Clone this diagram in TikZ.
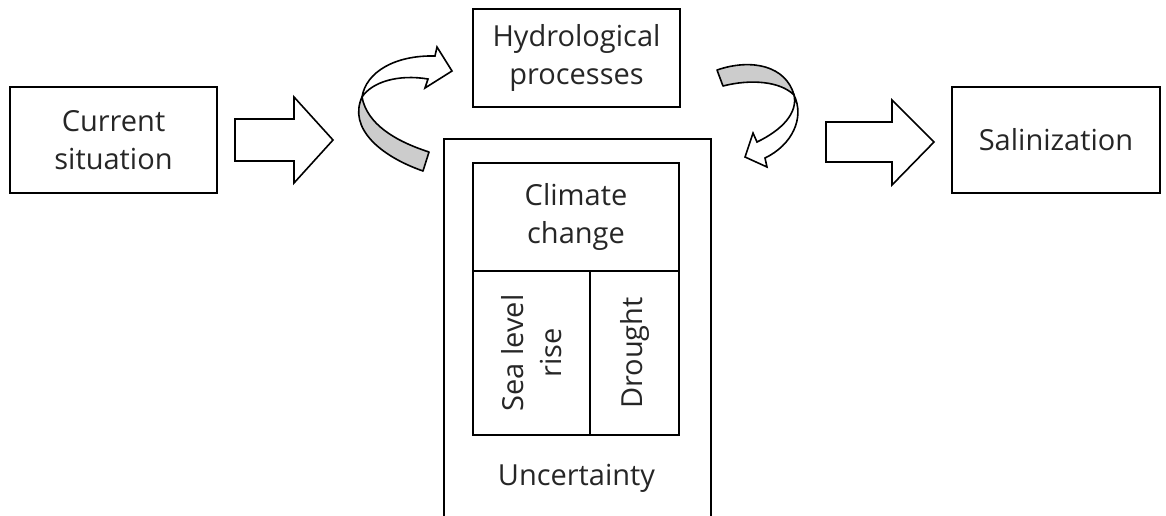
\documentclass[tikz,border=0pt]{standalone}
\usepackage{fontspec}
\setmainfont{Open Sans}
\tikzset{
	box/.style={draw,line width=1.6pt,align=center,inner sep=0pt},%
	label/.style={align=center,inner sep=0pt,text=black!85},%
	blockarrow/.style={draw,line width=1.6pt,fill=white,line join=miter},%
	ribbonback/.style={draw,line width=1.6pt,fill=black!20,line join=round},%
	ribbonfront/.style={draw,line width=1.6pt,fill=white,line join=miter},%
}
\begin{document}
\begin{tikzpicture}[%
		x=1pt,y=-1pt,%
		font=\fontsize{29}{38}\selectfont,%
		]
		\useasboundingbox (0,0) rectangle (1166,515);
		% boxes
		\node[box,minimum width=207,minimum height=106,text=black!85] (current) at (113.5,140) {Current\\situation};
		\node[box,minimum width=207,minimum height=98,text=black!85] (hydro) at (576.5,58) {Hydrological\\processes};
		\node[box,minimum width=208,minimum height=106,text=black!85] (salin) at (1056,140) {Salinization};
		\node[box,minimum width=267,minimum height=400] (uncert) at (577.5,339) {};
		\node[box,minimum width=206,minimum height=108,text=black!85] (climate) at (576,217) {Climate\\change};
		\node[box,minimum width=117,minimum height=164] (sealevel) at (531.5,353) {};
		\node[box,minimum width=89,minimum height=164] (drought) at (634.5,353) {};
		\node[label,rotate=90] (sealeveltext) at (sealevel) {Sea level\\rise};
		\node[label,rotate=90] (droughttext) at (drought) {Drought};
		\node[label,anchor=base] (uncerttext) at (576.5,485) {Uncertainty};
		% straight arrows
		\draw[blockarrow] (235,119) -- (294,119) -- (294,97) -- (333,140) -- (294,183) -- (294,161) -- (235,161) -- cycle;
		\draw[blockarrow] (826,122) -- (892,122) -- (892,100) -- (934,142) -- (892,185) -- (892,162) -- (826,162) -- cycle;
		% curved arrow into the hydrological processes
		\draw[ribbonback] (362,97) .. controls (348,128) and (380,156) .. (423,171) -- (429,152) .. controls (395,141) and (367,124) .. (362,97) -- cycle;
		\draw[ribbonfront] (362,97) .. controls (366,72) and (395,55) .. (435,56) -- (437,47) -- (452,71) -- (425,88) -- (428,79) .. controls (398,74) and (372,82) .. (362,97) -- cycle;
		% curved arrow out of the hydrological processes
		\draw[ribbonback] (717,70) .. controls (752,58) and (786,66) .. (794,95) .. controls (780,81) and (750,79) .. (723,86) -- cycle;
		\draw[ribbonfront] (794,95) .. controls (805,118) and (792,145) .. (765,158) -- (767,167) -- (745,157) -- (753,133) -- (757,142) .. controls (782,130) and (798,113) .. (794,95) -- cycle;
	\end{tikzpicture}
\end{document}
